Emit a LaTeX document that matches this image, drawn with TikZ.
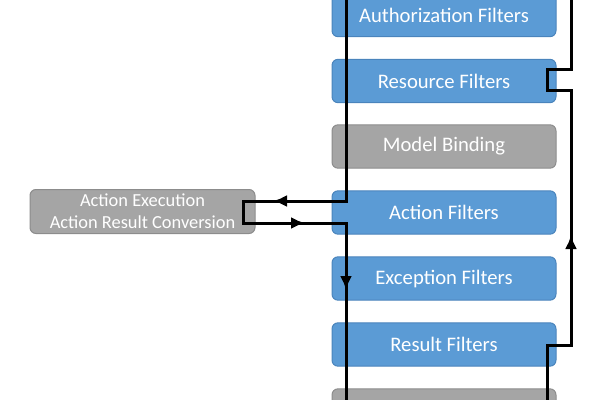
\documentclass[tikz,border=0pt]{standalone}
\usepackage{fontspec}
\setmainfont{Carlito}
\usetikzlibrary{arrows.meta,decorations.markings}
\definecolor{filterblue}{HTML}{5B9BD5}
\definecolor{filterbluedark}{HTML}{4A84BC}
\definecolor{stagegray}{HTML}{A5A5A5}
\definecolor{stagegraydark}{HTML}{8C8C8C}
\tikzset{flowtip/.tip={Latex[length=10.5pt, width=9pt]}}

\begin{document}
\begin{tikzpicture}[
    x=0.75pt, y=-0.75pt,
    filter/.style={draw=filterbluedark, fill=filterblue, line width=0.75pt,
                   rounded corners=4.5pt, minimum width=168pt,
                   minimum height=32.5pt, text=white,
                   font=\fontsize{15.5}{18}\selectfont},
    stage/.style={filter, draw=stagegraydark, fill=stagegray},
    flow/.style={line width=2.25pt, line join=miter, postaction=decorate}
  ]
  \useasboundingbox (0,0) rectangle (600,400);
  \clip (0,0) rectangle (600,400);
  % Filter pipeline
  \node[filter] (auth) at (444,15) {Authorization Filters};
  \node[filter] (resource) at (444,81) {Resource Filters};
  \node[stage] (binding) at (444,146.5) {Model Binding};
  \node[filter] (action) at (444,212.5) {Action Filters};
  \node[filter] (exception) at (444,278.5) {Exception Filters};
  \node[filter] (result) at (444,344.5) {Result Filters};
  \node[stage] (endstage) at (444,410.5) {};
  % Action execution box
  \node[stage, minimum width=168.75pt, minimum height=33pt, align=center,
        font=\fontsize{13.8}{16.5}\selectfont] (exec) at (142.5,211.5)
    {Action Execution\\Action Result Conversion};
  % Request path (down)
  \coordinate (inTop) at (346,-10);
  \coordinate (execIn) at (243,201);
  \coordinate (execOut) at (243,223);
  \coordinate (inBottom) at (346,410);
  \draw[flow, decoration={markings,
      mark=at position 213pt with {\arrow{flowtip}},
      mark=at position 298.5pt with {\arrow{flowtip}},
      mark=at position 379.5pt with {\arrow{flowtip}}}]
    (inTop) |- (execIn) -- (execOut) -| (inBottom);
  % Response path (up)
  \coordinate (retBottom) at (547,410);
  \coordinate (riseLow) at (571,345);
  \coordinate (riseHigh) at (571,90);
  \coordinate (jogHigh) at (547,69);
  \coordinate (retTop) at (571,-10);
  \draw[flow, decoration={markings,
      mark=at position 149.25pt with {\arrow{flowtip}}}]
    (retBottom) |- (riseLow) -- (riseHigh) -| (jogHigh) -| (retTop);
\end{tikzpicture}
\end{document}
